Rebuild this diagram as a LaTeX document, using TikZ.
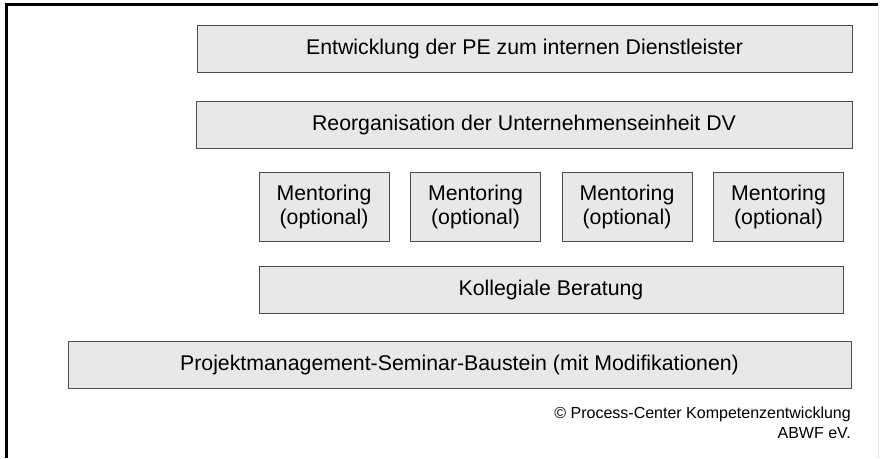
\documentclass[tikz,border=0pt]{standalone}
\usepackage{fontspec}
\setmainfont{Liberation Sans}
\usepackage{tikz}

\begin{document}
\begin{tikzpicture}[x=1pt, y=-1pt,
        block/.style={draw=black!70, line width=1pt, fill=black!9, inner sep=0pt,
            align=center, font=\fontsize{21.3}{24}\selectfont},
        row/.style={block, minimum height=47pt},
        mentor/.style={block, minimum width=130pt, minimum height=69pt}]
        \useasboundingbox (0, 0) rectangle (881, 458);
        \draw[line width=2.5pt](5, 4.5) -- (878, 4.5);
        \draw[line width=2.5pt](6.5, 3.5) -- (6.5, 458);
        \draw[black!12, line width=0.8pt](878.5, 6) -- (878.5, 458);
        \node[row, minimum width=655pt](pe)at(524.5, 49){Entwicklung der PE zum internen Dienstleister};
        \node[row, minimum width=656pt](dv)at(524, 124.5){Reorganisation der Unternehmenseinheit DV};
        \node[mentor](m1)at(324, 206.5){Mentoring\\(optional)};
        \node[mentor](m2)at(475.5, 206.5){Mentoring\\(optional)};
        \node[mentor](m3)at(627, 206.5){Mentoring\\(optional)};
        \node[mentor](m4)at(778.5, 206.5){Mentoring\\(optional)};
        \node[row, minimum width=584pt](kb)at(551, 289.5){Kollegiale Beratung};
        \node[row, minimum width=783pt](pm)at(459.5, 364.5){Projektmanagement-Seminar-Baustein (mit Modifikationen)};
        \node[anchor=north east, inner sep=0pt, align=right, font=\fontsize{16}{20}\selectfont](copy)at(851, 407){\textcopyright{} Process-Center Kompetenzentwicklung\\ABWF eV.};
    \end{tikzpicture}
\end{document}
